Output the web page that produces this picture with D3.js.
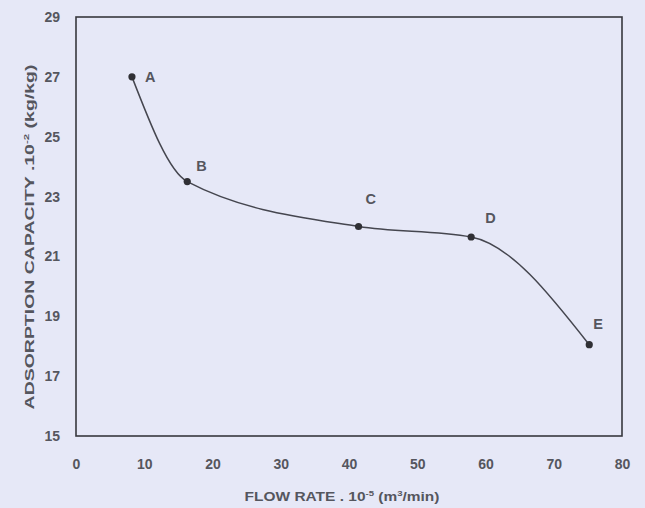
<!DOCTYPE html>
<html><head><meta charset="utf-8">
<script src="https://cdn.jsdelivr.net/npm/d3@7"></script>
<style>body{margin:0;background:#e6e8f7;} svg{display:block;}</style>
</head><body>
<svg id="c" width="645" height="508"></svg>
<script>
const labels = ["A","B","C","D","E"];
const flowRate = [8.2, 16.3, 41.4, 57.9, 75.2];
const capacity = [27.0, 23.5, 22.0, 21.65, 18.05];
const xTicks = [0,10,20,30,40,50,60,70,80];
const yTicks = [15,17,19,21,23,25,27,29];

const svg = d3.select("#c");
const W=645,H=508;
const FF="Liberation Sans, Arial, sans-serif";
svg.append("rect").attr("width",W).attr("height",H).attr("fill","#e6e8f7");
const L=76,R=622,T=17,B=436;
const x = d3.scaleLinear().domain([0,80]).range([L,R]);
const y = d3.scaleLinear().domain([15,29]).range([B,T]);
const ink="#38383e", txt="#55565e";

svg.append("rect").attr("x",L).attr("y",T).attr("width",R-L).attr("height",B-T)
  .attr("fill","none").attr("stroke",ink).attr("stroke-width",1.6);

const xa = svg.append("g").attr("transform",`translate(0,${B})`)
  .call(d3.axisBottom(x).tickValues(xTicks).tickSize(0).tickPadding(23));
xa.select(".domain").remove();
xa.selectAll("text").attr("font-family",FF).attr("font-size",14).attr("fill",txt).attr("font-weight","bold");

const ya = svg.append("g").attr("transform",`translate(${L},0)`)
  .call(d3.axisLeft(y).tickValues(yTicks).tickSize(0).tickPadding(16));
ya.select(".domain").remove();
ya.selectAll("text").attr("font-family",FF).attr("font-size",14).attr("fill",txt).attr("font-weight","bold");

const data = flowRate.map((f,i)=>({x:f,y:capacity[i],l:labels[i]}));
const line = d3.line().x(d=>x(d.x)).y(d=>y(d.y)).curve(d3.curveMonotoneX);
svg.append("path").datum(data).attr("d",line).attr("fill","none")
  .attr("stroke","#45464f").attr("stroke-width",1.5);
svg.selectAll("circle.pt").data(data).enter().append("circle")
  .attr("cx",d=>x(d.x)).attr("cy",d=>y(d.y)).attr("r",3.6).attr("fill","#303035");
const off = {A:[13,5],B:[9,-11],C:[7,-23],D:[14,-14],E:[4,-16]};
svg.selectAll("text.lbl").data(data).enter().append("text")
  .attr("x",d=>x(d.x)+off[d.l][0]).attr("y",d=>y(d.y)+off[d.l][1])
  .attr("font-family",FF).attr("font-size",14.5).attr("font-weight","bold").attr("fill",txt)
  .text(d=>d.l);

// axis titles, stretched along their reading direction to match the reference
function stretch(g, sel, target, base){
  const len = sel.node().getComputedTextLength();
  g.attr("transform", base + ` scale(${(target/len).toFixed(3)},1)`);
}
const xg = svg.append("g");
const xt = xg.append("text").attr("x",0).attr("y",0).attr("text-anchor","middle")
  .attr("font-family",FF).attr("font-size",13).attr("font-weight","bold").attr("fill",txt);
xt.append("tspan").text("FLOW RATE . 10");
xt.append("tspan").attr("dy",-5).attr("font-size",8).text("-5");
xt.append("tspan").attr("dy",5).text(" (m");
xt.append("tspan").attr("dy",-5).attr("font-size",8).text("3");
xt.append("tspan").attr("dy",5).text("/min)");
stretch(xg, xt, 195, "translate(342,501)");

const yg = svg.append("g");
const yt = yg.append("text").attr("x",0).attr("y",0).attr("text-anchor","middle")
  .attr("font-family",FF).attr("font-size",13.5).attr("font-weight","bold").attr("fill",txt);
yt.append("tspan").text("ADSORPTION CAPACITY .10");
yt.append("tspan").attr("dy",-5).attr("font-size",8).text("-2");
yt.append("tspan").attr("dy",5).text(" (kg/kg)");
stretch(yg, yt, 345, "translate(34,237) rotate(-90)");
</script>
</body></html>
